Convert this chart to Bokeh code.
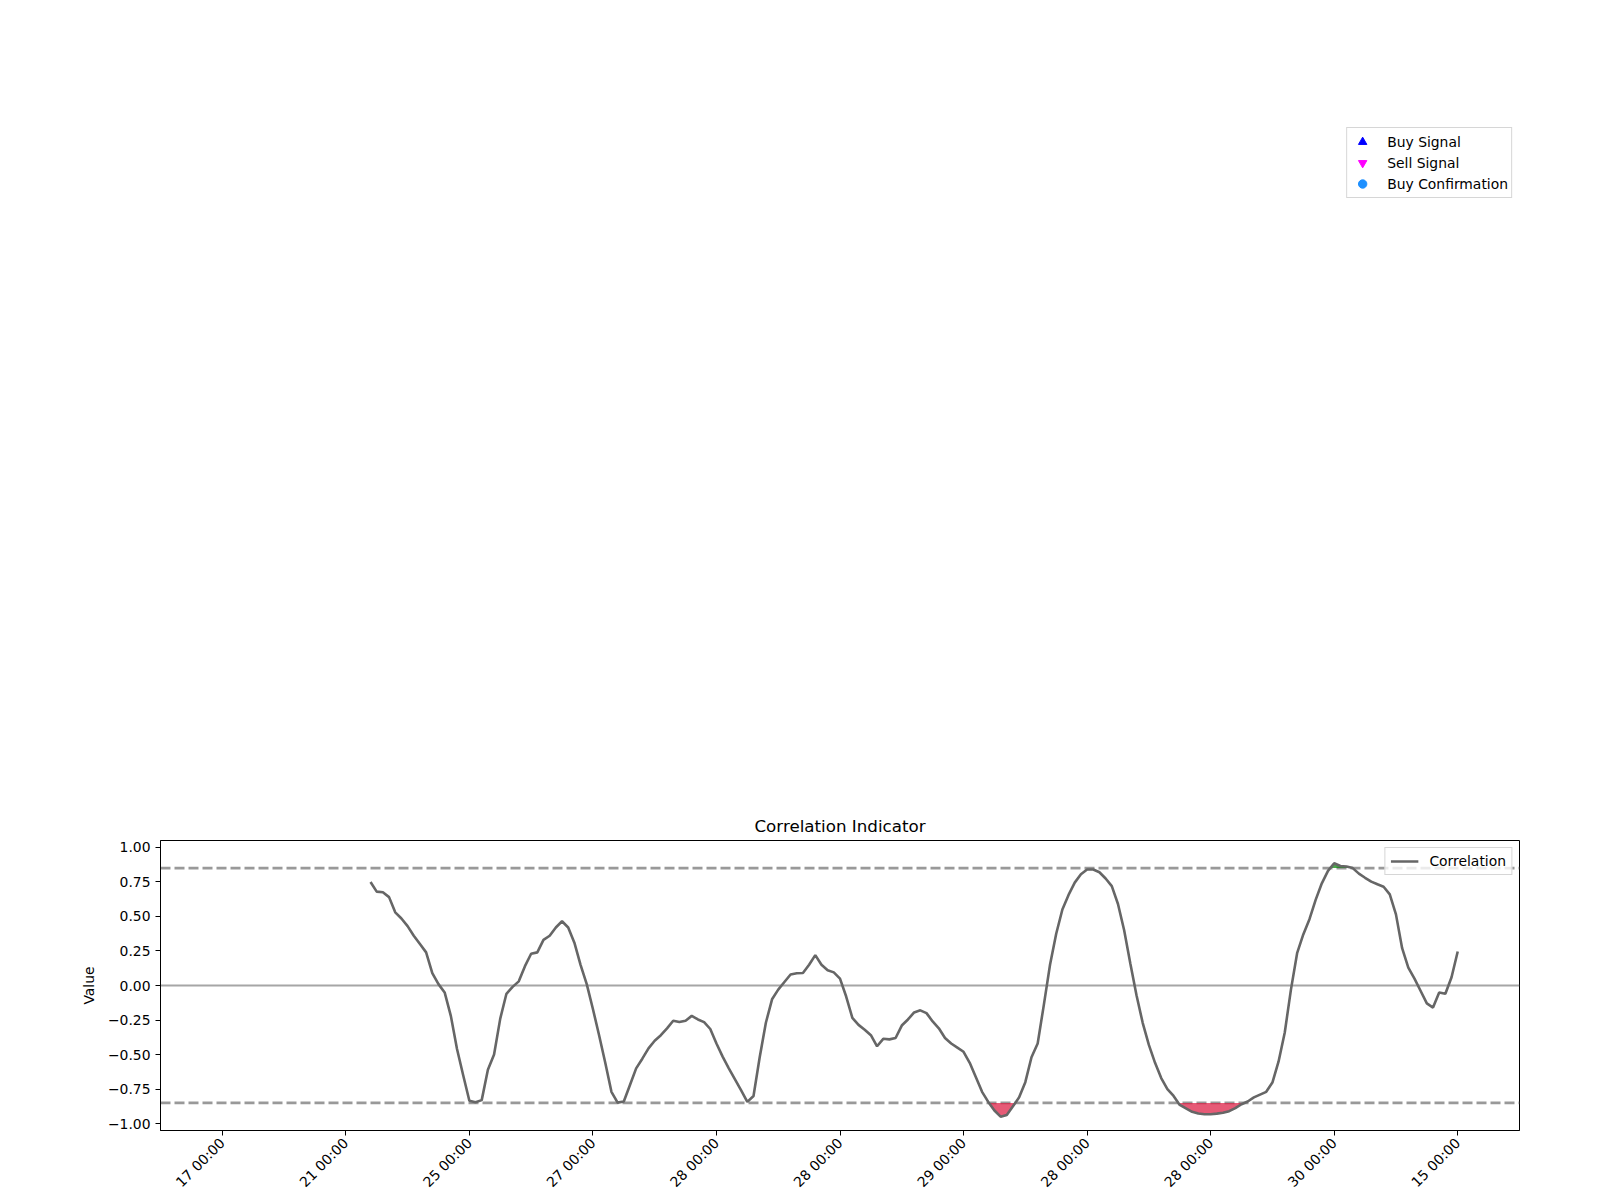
import math
from bokeh.plotting import figure
from bokeh.layouts import column
from bokeh.models import (Span, Legend, LegendItem, FixedTicker, CustomJSTickFormatter, Range1d)
from bokeh.embed import file_html
from bokeh.resources import INLINE

# ---------------- data ----------------
start_index = 24
correlation = [
    0.75, 0.68, 0.675, 0.64, 0.53, 0.485, 0.43, 0.36, 0.30, 0.24,      # 24-33
    0.09, 0.01, -0.05, -0.22, -0.46, -0.65, -0.835, -0.845, -0.83, -0.61,  # 34-43
    -0.50, -0.24, -0.06, -0.01, 0.03, 0.14, 0.23, 0.24, 0.33, 0.36,    # 44-53
    0.42, 0.465, 0.42, 0.31, 0.15, 0.01, -0.17, -0.36, -0.56, -0.77,   # 54-63
    -0.848, -0.84, -0.72, -0.60, -0.53, -0.455, -0.40, -0.36, -0.31, -0.255,  # 64-73
    -0.265, -0.255, -0.22, -0.246, -0.265, -0.315, -0.42, -0.515, -0.60, -0.68,  # 74-83
    -0.76, -0.843, -0.80, -0.52, -0.27, -0.10, -0.03, 0.025, 0.08, 0.089,  # 84-93
    0.09, 0.15, 0.22, 0.15, 0.11, 0.095, 0.05, -0.08, -0.234, -0.285,  # 94-103
    -0.32, -0.36, -0.44, -0.386, -0.39, -0.38, -0.29, -0.246, -0.195, -0.18,  # 104-113
    -0.20, -0.26, -0.31, -0.38, -0.42, -0.45, -0.48, -0.56, -0.665, -0.77,  # 114-123
    -0.843, -0.905, -0.95, -0.937, -0.875, -0.81, -0.70, -0.52, -0.42, -0.14,  # 124-133
    0.15, 0.375, 0.55, 0.656, 0.745, 0.805, 0.84, 0.84, 0.82, 0.775,   # 134-143
    0.72, 0.59, 0.40, 0.16, -0.07, -0.27, -0.43, -0.56, -0.67, -0.75,  # 144-153
    -0.80, -0.865, -0.89, -0.915, -0.927, -0.932, -0.932, -0.928, -0.922, -0.91,  # 154-163
    -0.888, -0.86, -0.84, -0.81, -0.79, -0.77, -0.703, -0.55, -0.34, -0.03,  # 164-173
    0.234, 0.37, 0.48, 0.62, 0.74, 0.83, 0.885, 0.865, 0.862, 0.85,    # 174-183
    0.81, 0.78, 0.752, 0.733, 0.715, 0.66, 0.515, 0.27, 0.13, 0.05,    # 184-193
    -0.04, -0.13, -0.16, -0.05, -0.06, 0.06, 0.246,                    # 194-200
]
x_tick_positions = [0, 20, 40, 60, 80, 100, 120, 140, 160, 180, 200]
x_tick_labels = ["17 00:00", "21 00:00", "25 00:00", "27 00:00", "28 00:00", "28 00:00",
                 "29 00:00", "28 00:00", "28 00:00", "30 00:00", "15 00:00"]
y_ticks = [-1.0, -0.75, -0.5, -0.25, 0.0, 0.25, 0.5, 0.75, 1.0]
upper_threshold = 0.85
lower_threshold = -0.85
# signal series of the (empty) upper panel: no events fall in the shown window
buy_signal_x, buy_signal_y = [float("nan")], [float("nan")]
sell_signal_x, sell_signal_y = [float("nan")], [float("nan")]
buy_conf_x, buy_conf_y = [float("nan")], [float("nan")]

index = list(range(start_index, start_index + len(correlation)))

FONT = "DejaVu Sans"
FS = "13.9px"

# ---------------- top (signals) panel ----------------
top = figure(width=1592, height=788, output_backend="svg", toolbar_location=None,
             x_axis_location=None, y_axis_location=None,
             x_range=Range1d(0, 1), y_range=Range1d(0, 1),
             min_border_left=160, min_border_right=73, min_border_top=120, min_border_bottom=10)
top.outline_line_color = None
top.xgrid.visible = False
top.ygrid.visible = False
top.grid.visible = False

r_buy = top.scatter(x=buy_signal_x, y=buy_signal_y, marker="triangle",
                    fill_color="blue", line_color="blue")
r_sell = top.scatter(x=sell_signal_x, y=sell_signal_y, marker="inverted_triangle",
                     fill_color="magenta", line_color="magenta")
r_conf = top.scatter(x=buy_conf_x, y=buy_conf_y, marker="circle",
                     fill_color="dodgerblue", line_color="dodgerblue")

sig_legend = Legend(items=[LegendItem(label="Buy Signal", renderers=[r_buy]),
                           LegendItem(label="Sell Signal", renderers=[r_sell]),
                           LegendItem(label="Buy Confirmation", renderers=[r_conf])],
                    location="top_right", margin=7, padding=3, spacing=0,
                    glyph_height=21, glyph_width=24, label_height=21, label_standoff=13,
                    label_text_font=FONT, label_text_font_size=FS, label_text_color="black",
                    border_line_color="#cccccc", border_line_alpha=0.8,
                    background_fill_color="white", background_fill_alpha=0.8)
top.add_layout(sig_legend)

# ---------------- bottom (correlation) panel ----------------
p = figure(width=1592, height=410, output_backend="svg", toolbar_location=None,
           title="Correlation Indicator",
           x_range=Range1d(-10, 210), y_range=Range1d(-1.05, 1.05),
           min_border_left=160, min_border_right=73, min_border_top=52, min_border_bottom=10)
p.title.text_font = FONT
p.title.text_font_size = "16.7px"
p.title.text_font_style = "normal"
p.title.text_color = "black"
p.title.align = "center"
p.outline_line_color = "black"
p.outline_line_width = 1
p.xgrid.visible = False
p.ygrid.visible = False


def threshold_regions(xs, ys, thr, below):
    def beyond(v):
        return v < thr if below else v > thr
    regions_x, regions_y = [], []
    cur_x, cur_y = [], []
    for k in range(len(xs)):
        x, y = xs[k], ys[k]
        if k > 0 and beyond(ys[k - 1]) != beyond(y):
            x0, y0 = xs[k - 1], ys[k - 1]
            xc = x0 + (thr - y0) * (x - x0) / (y - y0)
            cur_x.append(xc)
            cur_y.append(thr)
            if not beyond(y):
                regions_x.append(cur_x)
                regions_y.append(cur_y)
                cur_x, cur_y = [], []
        if beyond(y):
            if not cur_x:
                cur_x.append(x)
                cur_y.append(thr)
            cur_x.append(x)
            cur_y.append(y)
    if cur_x:
        cur_x.append(cur_x[-1])
        cur_y.append(thr)
        regions_x.append(cur_x)
        regions_y.append(cur_y)
    return regions_x, regions_y


lx, ly = threshold_regions(index, correlation, lower_threshold, True)
if lx:
    p.patches(xs=lx, ys=ly, fill_color="crimson", fill_alpha=0.7, line_color=None)
ux, uy = threshold_regions(index, correlation, upper_threshold, False)
if ux:
    p.patches(xs=ux, ys=uy, fill_color="green", fill_alpha=0.7, line_color=None)

p.add_layout(Span(location=upper_threshold, dimension="width", line_color="gray",
                  line_alpha=0.8, line_dash="10 4", line_width=2.6, level="underlay"))
p.add_layout(Span(location=lower_threshold, dimension="width", line_color="gray",
                  line_alpha=0.8, line_dash="10 4", line_width=2.6, level="underlay"))
p.add_layout(Span(location=0, dimension="width", line_color="gray",
                  line_alpha=0.7, line_width=2, level="underlay"))

line_r = p.line(index, correlation, line_color="#666666", line_width=2.6)

corr_legend = Legend(items=[LegendItem(label="Correlation", renderers=[line_r])],
                     location="top_right", margin=7, padding=5,
                     glyph_height=14, glyph_width=28, label_height=14, label_standoff=11,
                     label_text_font=FONT, label_text_font_size=FS, label_text_color="black",
                     border_line_color="#cccccc", border_line_alpha=0.8,
                     background_fill_color="white", background_fill_alpha=0.8)
p.add_layout(corr_legend)

# axes
p.yaxis.ticker = FixedTicker(ticks=y_ticks)
p.yaxis.formatter = CustomJSTickFormatter(
    code="return (tick < 0 ? '\u2212' : '') + Math.abs(tick).toFixed(2);")
p.yaxis.axis_label = "Value"
p.yaxis.axis_label_text_font = FONT
p.yaxis.axis_label_text_font_size = FS
p.yaxis.axis_label_text_font_style = "normal"
p.yaxis.axis_label_text_color = "black"
p.yaxis.axis_label_standoff = 8

p.xaxis.ticker = FixedTicker(ticks=x_tick_positions)
p.xaxis.formatter = CustomJSTickFormatter(
    args=dict(pos=x_tick_positions, labels=x_tick_labels),
    code="const i = pos.indexOf(tick); return i >= 0 ? labels[i] : '';")
p.xaxis.major_label_orientation = math.pi / 4

for ax in (p.xaxis[0], p.yaxis[0]):
    ax.major_label_text_font = FONT
    ax.major_label_text_font_size = FS
    ax.major_label_text_color = "black"
    ax.major_tick_out = 5
    ax.major_tick_in = 0
    ax.minor_tick_out = 0
    ax.minor_tick_in = 0
    ax.major_label_standoff = 5
    ax.axis_line_color = "black"
    ax.major_tick_line_color = "black"

layout = column(top, p, spacing=0)
open("out.html", "w").write(file_html(layout, INLINE))
